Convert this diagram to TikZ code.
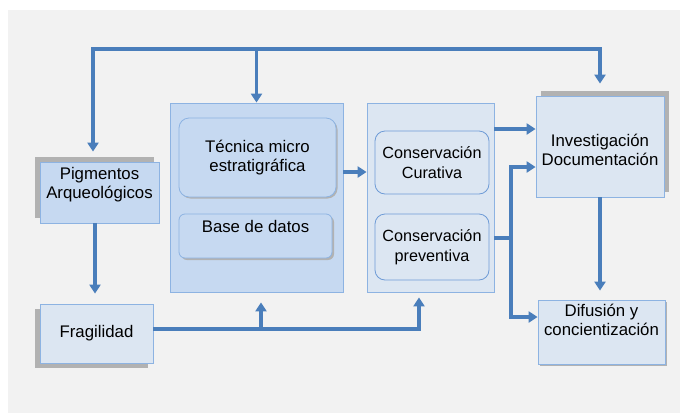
\documentclass[tikz,border=0pt]{standalone}
\usepackage{fontspec}
\setmainfont{Liberation Sans}
\usetikzlibrary{arrows.meta,positioning,calc,shadows}
\definecolor{bgGray}{HTML}{F2F2F2}
\definecolor{fillDark}{HTML}{C6D9F1}
\definecolor{fillLight}{HTML}{DCE6F2}
\definecolor{boxLine}{HTML}{8DB3E2}
\definecolor{innerLine}{HTML}{6E9BD6}
\definecolor{flowBlue}{HTML}{4A7EBB}
\definecolor{shadowGray}{HTML}{B2B2B2}
\def\liftup#1#2{\raisebox{#1}[\height][\depth]{\begin{tabular}{@{}c@{}}#2\end{tabular}}}
\tikzset{
  flowtip/.tip={Triangle[length=9pt,width=11pt]},
  box/.style={draw=boxLine, line width=0.8pt, align=center, inner sep=0pt,
    font=\fontsize{16.8}{19.5}\selectfont},
  darkbox/.style={box, fill=fillDark},
  lightbox/.style={box, fill=fillLight},
  innerbox/.style={lightbox, draw=innerLine, rounded corners=10pt,
    font=\fontsize{16.2}{19.5}\selectfont, minimum width=114pt},
  dropshadow/.style 2 args={general shadow={fill=shadowGray, shadow xshift=#1, shadow yshift=#2}},
  flow/.style={draw=flowBlue, line width=3.5pt, -flowtip},
  flowline/.style={draw=flowBlue, line width=3.5pt},
}
\begin{document}
\begin{tikzpicture}[x=1pt,y=-1pt]
%%%%% START %%%%%
\useasboundingbox (0,0) rectangle (680,413);
\fill[bgGray] (8,10) rectangle (680,413);

% left column
\node[darkbox, minimum width=119pt, minimum height=61pt, dropshadow={-5pt}{5pt}] (pig) at (99.5,192.5) {\liftup{7.5pt}{Pigmentos\\Arqueológicos}};
\node[lightbox, minimum width=113pt, minimum height=59pt, dropshadow={-5pt}{-5pt}] (frag) at (96.5,333.5) {Fragilidad};

% containers
\node[darkbox, minimum width=173pt, minimum height=189pt] (tec) at (256.5,197.5) {};
\node[darkbox, rounded corners=10pt, minimum width=157pt, minimum height=79pt, dropshadow={1.5pt}{-1.5pt}] (micro) at (257.5,157.5) {Técnica micro\\estratigráfica};
\node[darkbox, rounded corners=6pt, minimum width=153pt, minimum height=44pt, dropshadow={2pt}{-2pt}] (base) at (255.5,236) {\liftup{7pt}{Base de datos}};

\node[lightbox, minimum width=127pt, minimum height=189pt] (cons) at (430.5,197.5) {};
\node[innerbox, minimum height=63pt] (cur) at (432,162.5) {Conservación\\Curativa};
\node[innerbox, minimum height=66pt] (prev) at (432,247) {Conservación\\preventiva};

% right column
\node[lightbox, minimum width=128pt, minimum height=101pt, dropshadow={5pt}{5pt}] (inv) at (600,146.5) {\liftup{-5.5pt}{Investigación\\Documentación}};
\node[lightbox, minimum width=127pt, minimum height=64pt, dropshadow={1.5pt}{-1.5pt}] (dif) at (601.5,332) {\liftup{10pt}{Difusión y\\concientización}};

% top loop
\coordinate (tl) at (93,49);
\coordinate (tr) at (600,49);
\draw[flow, flowtip-flowtip, shorten <=10pt, shorten >=12pt] (tl |- pig.north) -- (tl) -- (tr) -- (inv.north);
\draw[flow] (tec.north |- tl) -- (tec.north);

\draw[flow, shorten >=10pt] ([xshift=-4.5pt]pig.south) -- ([xshift=-1.5pt]frag.north);
\draw[flow] ([yshift=25.5pt]tec.east) -- ([yshift=25.5pt]cons.west);

% to the right
\coordinate (ya) at (0,129);
\coordinate (yb) at (0,167);
\coordinate (yc) at (0,317);
\coordinate (j) at (511,238);
\draw[flow] (cons.east |- ya) -- (inv.west |- ya);
\draw[flowline] (cons.east |- j) -- (j);
\draw[flow] (j) |- (inv.west |- yb);
\draw[flow] (j) |- (dif.west |- yc);
\draw[flow, shorten >=9pt] (inv.south) -- (inv.south |- dif.north);

% bottom feed
\coordinate (fk) at (419,329);
\coordinate (fb) at (261,329);
\draw[flow, shorten >=5pt] (frag.east |- fk) -| (fk |- cons.south);
\draw[flow, shorten >=10pt] (fb) -- (fb |- tec.south);
%%%%% END %%%%%
\end{tikzpicture}
\end{document}
